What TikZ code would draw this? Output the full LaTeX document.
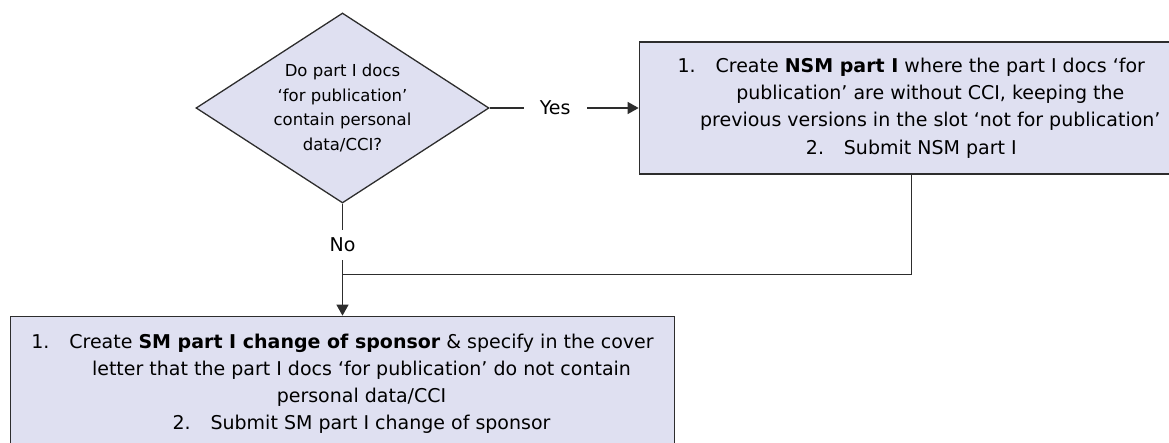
\documentclass[tikz,border=0pt]{standalone}
\usepackage{fontspec}
\setmainfont{DejaVu Sans}
\usepackage{tikz}
\usetikzlibrary{arrows.meta, positioning, shapes.geometric}

\definecolor{boxfill}{RGB}{223,224,241}
\definecolor{lineclr}{RGB}{45,45,45}

% list label and hanging indent of the continued lines
\newcommand{\numlbl}[1]{\makebox[38pt][l]{#1}}
\newcommand{\contind}{\hspace*{38pt}}

\begin{document}
\begin{tikzpicture}[
    x=1pt, y=1pt,
    every node/.style={font=\fontsize{19}{27.3}\selectfont},
    box/.style={draw=lineclr, line width=1.3pt, fill=boxfill, align=center, inner sep=0pt},
    dec/.style={diamond, draw=lineclr, line width=1.3pt, fill=boxfill, align=center, inner sep=0pt,
        shape aspect=1.54, minimum width=293pt, minimum height=190pt, font=\fontsize{16.5}{24.5}\selectfont},
    lbl/.style={fill=white, inner xsep=16pt, inner ysep=8pt},
    link/.style={line width=1.3pt, draw=lineclr},
    arrow/.style={link, -{Triangle[length=11pt, width=12pt]}},
]

% page frame, the boxes run over its edges
\useasboundingbox (-342.5,108) rectangle (826.5,-335);
\clip (-342.5,108) rectangle (826.5,-335);

% === DECISION ===
\node[dec] (dec) at (0,0) {Do part I docs\\`for publication'\\contain personal\\data/CCI?};

% === YES: NSM ===
\node[box, right=149pt of dec, minimum width=544pt, minimum height=132pt] (nsm)
    {\numlbl{1.}Create \textbf{NSM part I} where the part I docs `for\\
     \contind publication' are without CCI, keeping the\\
     \contind previous versions in the slot `not for publication'\\
     \numlbl{2.}Submit NSM part I};

% === NO: SM ===
\node[box, below=112pt of dec, minimum width=664pt, minimum height=135pt] (sm)
    {\numlbl{1.}Create \textbf{SM part I change of sponsor} \& specify in the cover\\
     \contind letter that the part I docs `for publication' do not contain\\
     \contind personal data/CCI\\
     \contind\numlbl{2.}Submit SM part I change of sponsor};

\coordinate[below=71pt of dec.south] (join);

\draw[arrow] (dec.east) -- node[lbl, pos=0.44] (yes) {Yes} (nsm.west);
\draw[arrow] (dec.south) -- node[lbl, pos=0.366] (no) {No} (sm.north);
\draw[link] (nsm.south) |- (join);

\end{tikzpicture}
\end{document}
